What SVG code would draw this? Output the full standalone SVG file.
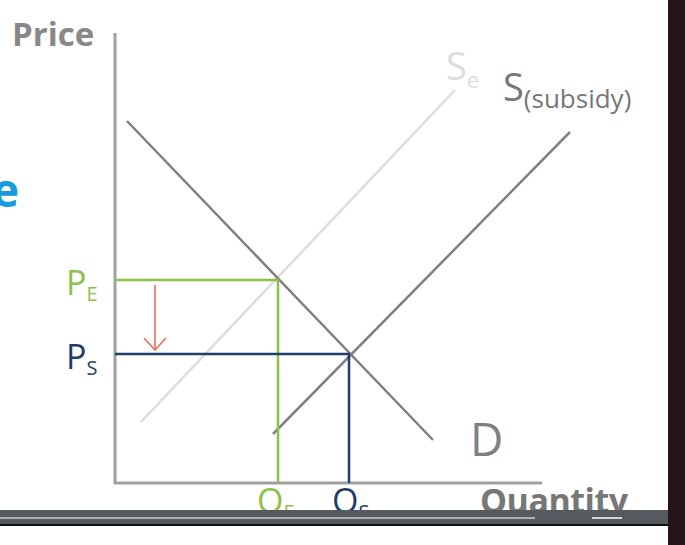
<svg xmlns="http://www.w3.org/2000/svg" width="685" height="545" viewBox="0 0 685 545">
<defs>
<style>
text{font-family:"Open Sans","Liberation Sans",sans-serif}
.ax{stroke:#a0a0a0;stroke-width:3;fill:none}
.crv{stroke-width:2.5;fill:none}
</style>
<marker id="ah" markerWidth="14" markerHeight="24" refX="12" refY="12" orient="auto" markerUnits="userSpaceOnUse" viewBox="0 0 14 24"><path d="M0,1 L12,12 L0,23" fill="none" stroke="#e8705a" stroke-width="1.6"/></marker>
</defs>
<rect width="685" height="545" fill="#fff"/>
<rect x="668" y="0" width="17" height="545" fill="#241417"/>
<text x="-8" y="207" font-size="46" font-weight="bold" fill="#1a9be0">e</text>
<g id="axes">
<line class="ax" x1="115" y1="33" x2="115" y2="484"/>
<line class="ax" x1="114" y1="483" x2="542" y2="483"/>
<text x="12" y="46" font-size="33" font-weight="bold" fill="#888">Price</text>
<text x="480" y="513" font-size="34" font-weight="bold" fill="#777" textLength="148">Quantity</text>
</g>
<g id="connectors">
<line class="crv" stroke="#ddd" x1="141" y1="422" x2="455" y2="90"/>
<line class="crv" stroke="#808080" x1="273" y1="434" x2="570" y2="132"/>
<line class="crv" stroke="#808080" x1="127" y1="121" x2="433" y2="440"/>
<polyline class="crv" stroke="#8dc04b" points="115,280 278,280 278,483"/>
<polyline class="crv" stroke="#1f3f6b" points="115,354 349,354 349,483"/>
<line stroke="#e8705a" stroke-width="1.6" x1="155" y1="285" x2="155" y2="350" marker-end="url(#ah)"/>
</g>
<g id="labels">
<text x="66" y="295" font-size="34" fill="#8dc04b">P<tspan font-size="20" dy="6">E</tspan></text>
<text x="66" y="369" font-size="34" fill="#1f3f6b">P<tspan font-size="20" dy="6">S</tspan></text>
<text x="257" y="513" font-size="34" fill="#8dc04b">Q<tspan font-size="20" dy="6">E</tspan></text>
<text x="332" y="513" font-size="34" fill="#1f3f6b">Q<tspan font-size="20" dy="6">S</tspan></text>
<text x="470" y="456" font-size="46" fill="#808080">D</text>
<text x="446" y="80" font-size="38" fill="#ddd">S<tspan font-size="22" dy="8">e</tspan></text>
<text x="503" y="101" font-size="38" fill="#777">S<tspan font-size="26" dy="7">(subsidy)</tspan></text>
</g>
<rect x="0" y="510" width="668" height="15" fill="#555a5f"/>
<line x1="0" y1="518" x2="535" y2="518" stroke="#ccc" stroke-width="1.5"/>
<rect x="0" y="524" width="668" height="2" fill="#111"/>
<line x1="592" y1="518" x2="622" y2="518" stroke="#fff" stroke-width="1.5"/>
</svg>
